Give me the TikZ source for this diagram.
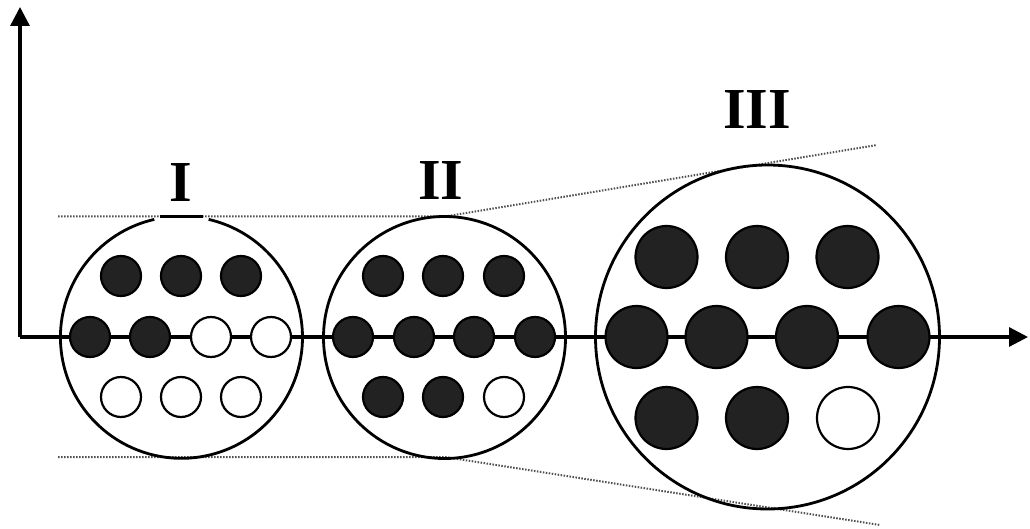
\documentclass[tikz,border=0pt]{standalone}
\usepackage{fontspec}
\setmainfont{Liberation Serif}
\usetikzlibrary{arrows.meta}
\definecolor{dotgray}{RGB}{80,80,80}
\definecolor{ballfill}{RGB}{34,34,34}
\begin{document}
\begin{tikzpicture}[x=1pt,y=-1pt,
  axisline/.style={line width=3.2pt,-{Triangle[length=19pt,width=19pt]}},
  bigcirc/.style={circle,draw,line width=2.8pt,inner sep=0pt},
  fullball/.style={circle,draw,line width=2.2pt,fill=ballfill,inner sep=0pt,minimum size=40pt},
  openball/.style={circle,draw,line width=2.2pt,fill=white,inner sep=0pt,minimum size=40pt},
  bigfull/.style={fullball,minimum size=62pt},
  bigopen/.style={openball,minimum size=62pt},
  guide/.style={dotgray,line width=2pt,dash pattern=on 1.5pt off 1.5pt},
  lab/.style={inner sep=0pt,font=\fontsize{58}{58}\selectfont\bfseries}]
\useasboundingbox (0,0) rectangle (1030,529);
% axes
\coordinate (o) at (20,337);
\coordinate (xe) at (1028,337);
\coordinate (ye) at (20,7);
\draw[axisline] (o) -- (xe);
\draw[axisline] (o) -- (ye);
% guide lines
\coordinate (t0) at (58,216.5);
\coordinate (t1) at (445,216.5);
\coordinate (t2) at (877,145);
\coordinate (b0) at (58,457);
\coordinate (b1) at (445,457);
\coordinate (b2) at (880,525);
\draw[guide] (t0) -- (t1) -- (t2);
\draw[guide] (b0) -- (b1) -- (b2);
% big circles
\node[circle,inner sep=0pt,minimum size=242pt] (c1) at (181.5,337.5) {};
\draw[line width=2.8pt] (c1.103) arc[start angle=103,end angle=437,radius=121pt];
\draw[line width=2.8pt] ([xshift=-22pt]c1.north) -- ([xshift=21pt]c1.north);
\node[bigcirc,minimum size=242pt] (c2) at (444.5,337.5) {};
\node[bigcirc,minimum size=344pt] (c3) at (767.5,337) {};
% labels
\node[lab] (l1) at (181,183) {I};
\node[lab] (l2) at (441,181) {II};
\node[lab] (l3) at (757,110) {III};
% circle I balls
\node[fullball] (a1) at (121,276) {};
\node[fullball] (a2) at (181,276) {};
\node[fullball] (a3) at (241,276) {};
\node[fullball] (a4) at (90,337) {};
\node[fullball] (a5) at (150,337) {};
\node[openball] (a6) at (211,337) {};
\node[openball] (a7) at (271,337) {};
\node[openball] (a8) at (121,397) {};
\node[openball] (a9) at (181,397) {};
\node[openball] (a10) at (241,397) {};
% circle II balls
\node[fullball] (b1n) at (383,276) {};
\node[fullball] (b2n) at (443,276) {};
\node[fullball] (b3n) at (504,276) {};
\node[fullball] (b4n) at (353,337) {};
\node[fullball] (b5n) at (414,337) {};
\node[fullball] (b6n) at (474,337) {};
\node[fullball] (b7n) at (535,337) {};
\node[fullball] (b8n) at (383,397) {};
\node[fullball] (b9n) at (443,397) {};
\node[openball] (b10n) at (504,397) {};
% circle III balls
\node[bigfull] (d1) at (666.5,257) {};
\node[bigfull] (d2) at (757,257) {};
\node[bigfull] (d3) at (847.5,257) {};
\node[bigfull] (d4) at (636.5,337) {};
\node[bigfull] (d5) at (716.5,337) {};
\node[bigfull] (d6) at (807,337) {};
\node[bigfull] (d7) at (898.5,337) {};
\node[bigfull] (d8) at (666.5,418) {};
\node[bigfull] (d9) at (757,418) {};
\node[bigopen] (d10) at (848,418) {};
\end{tikzpicture}
\end{document}
